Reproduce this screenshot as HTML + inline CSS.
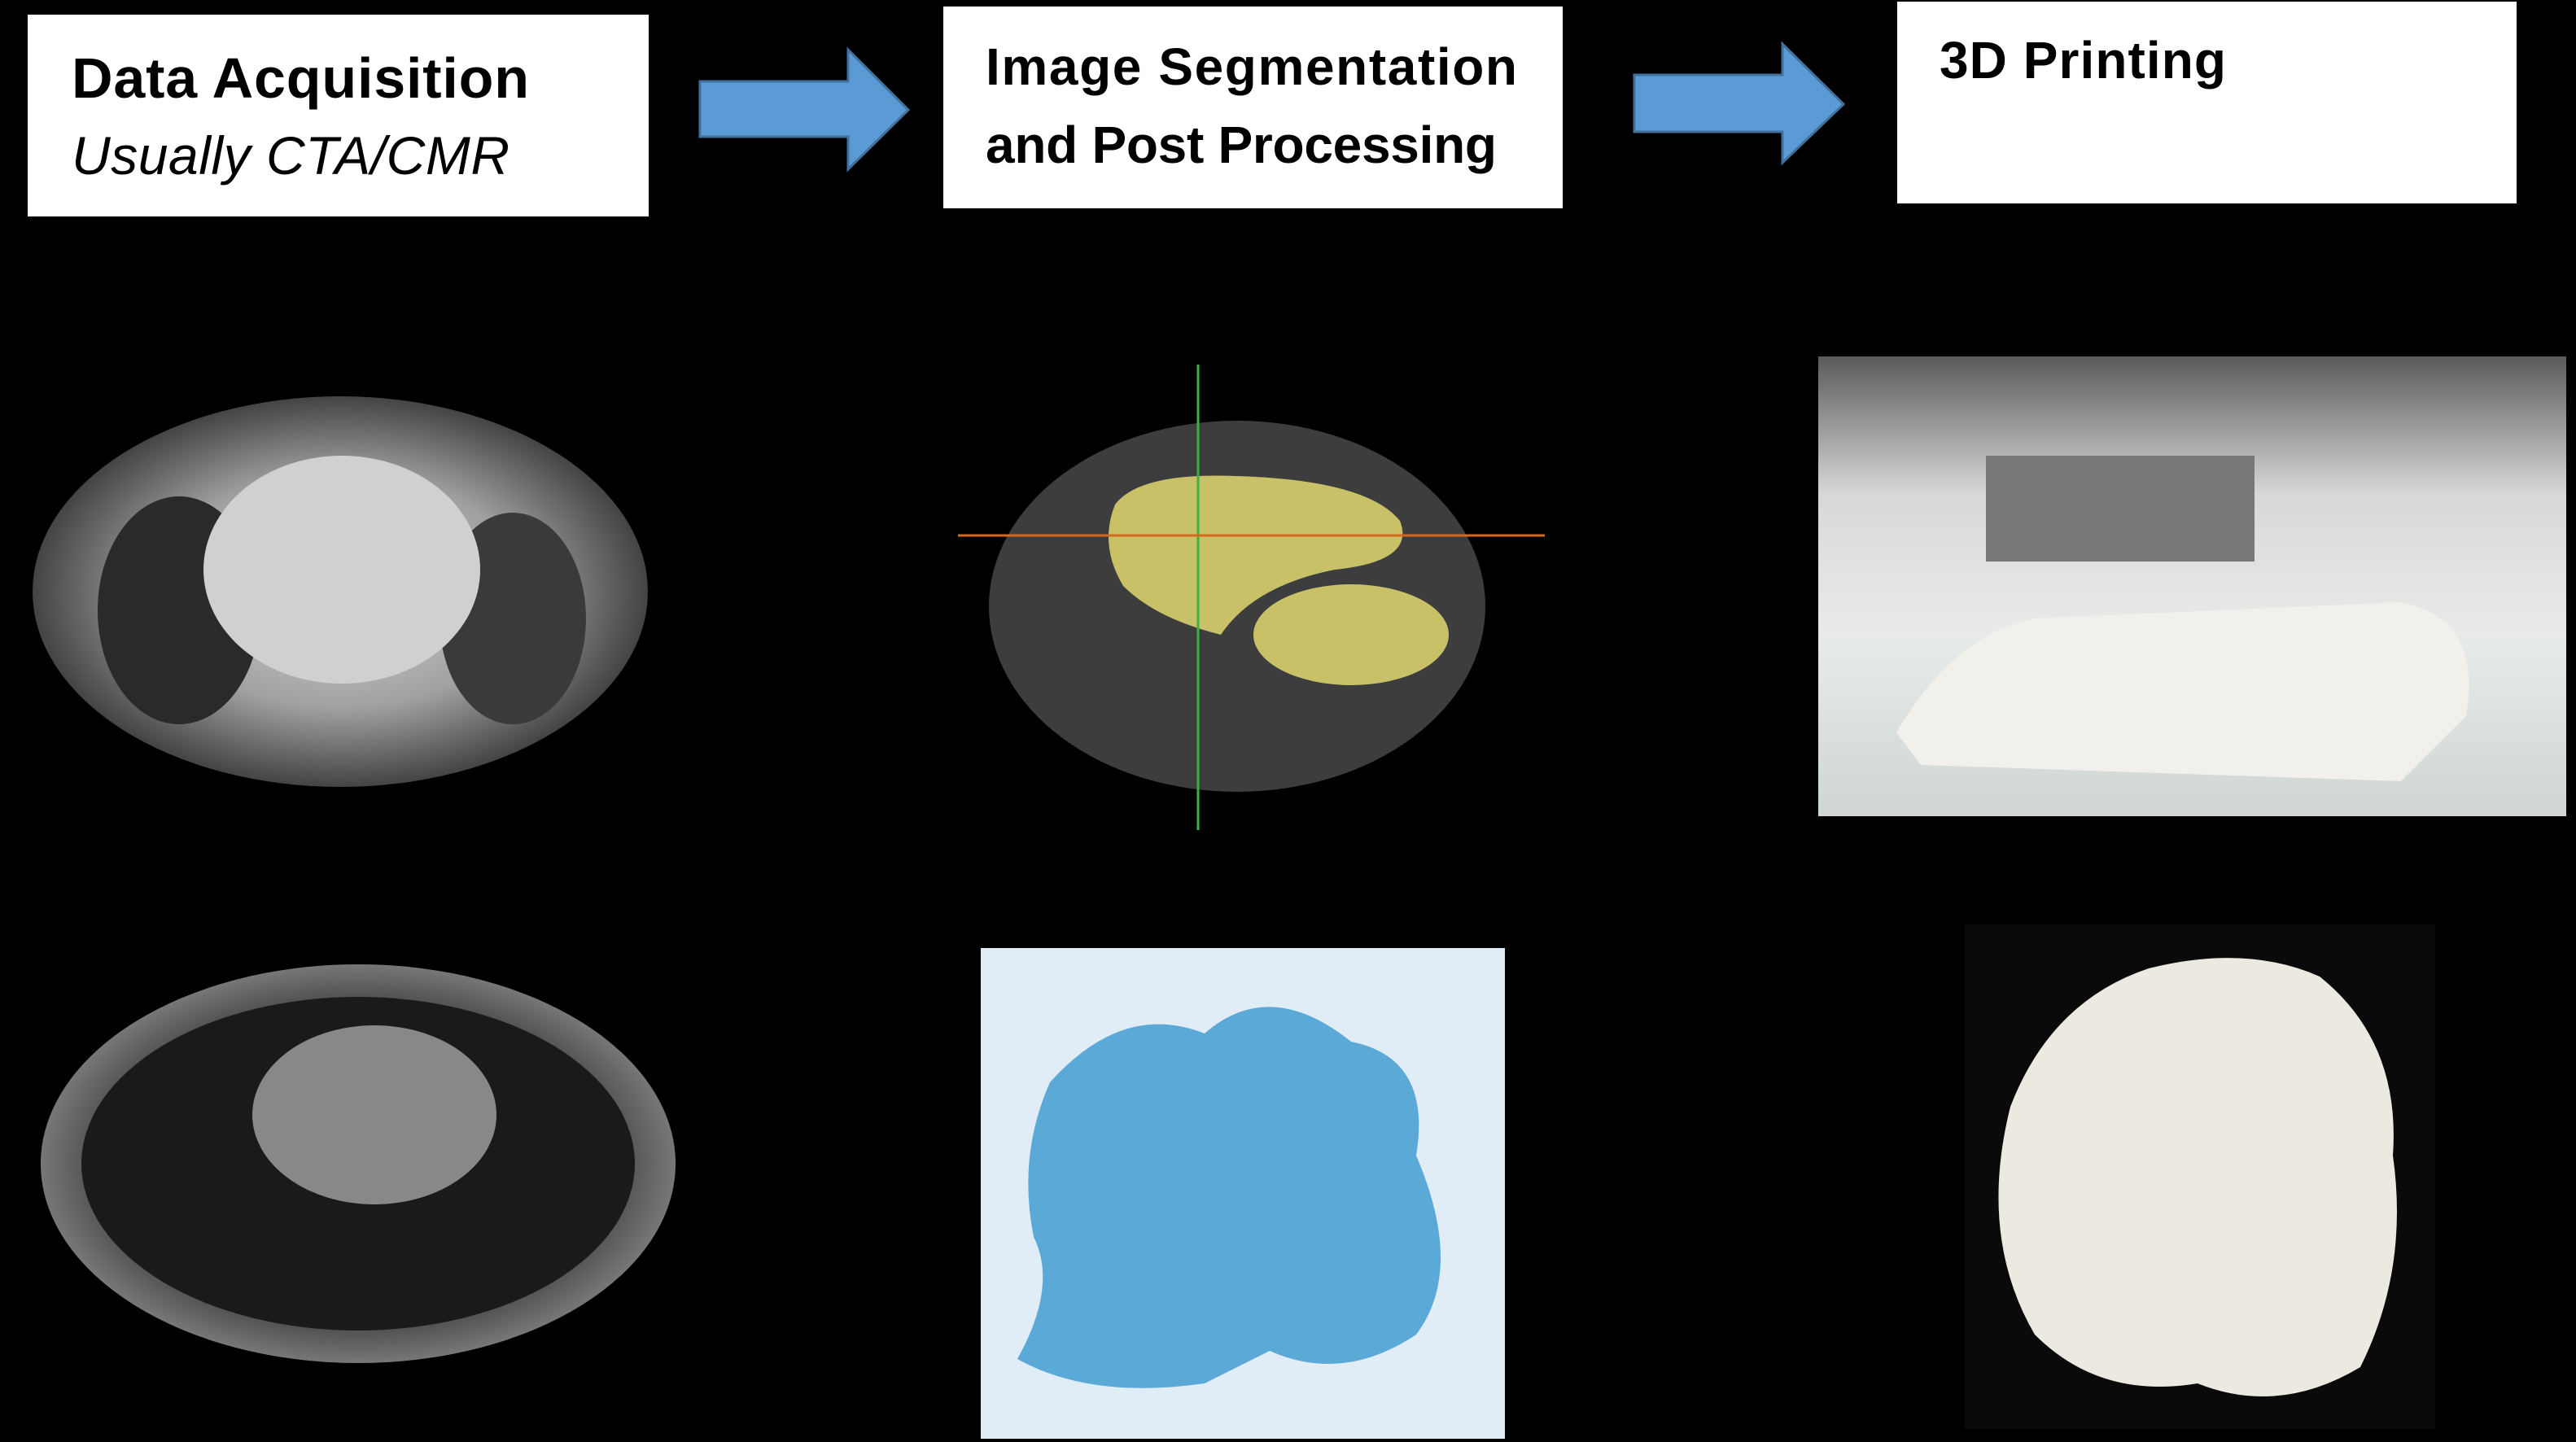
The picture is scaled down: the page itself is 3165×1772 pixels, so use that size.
<!DOCTYPE html>
<html><head><meta charset="utf-8"><style>
html,body{margin:0;padding:0;background:#000;}
svg{display:block;}
text{font-family:"Liberation Sans",sans-serif;}
</style></head><body>
<svg width="3165" height="1772" viewBox="0 0 3165 1772" xmlns="http://www.w3.org/2000/svg">
<defs>
<radialGradient id="ct" cx="50%" cy="50%" r="50%"><stop offset="0" stop-color="#d8d8d8"/><stop offset="0.6" stop-color="#a0a0a0"/><stop offset="0.85" stop-color="#666"/><stop offset="1" stop-color="#444"/></radialGradient>
<radialGradient id="mr" cx="50%" cy="50%" r="50%"><stop offset="0" stop-color="#888"/><stop offset="0.7" stop-color="#333"/><stop offset="1" stop-color="#777"/></radialGradient>
<linearGradient id="ph" x1="0" y1="0" x2="0" y2="1"><stop offset="0" stop-color="#5a5a5a"/><stop offset="0.3" stop-color="#d8d8d8"/><stop offset="0.6" stop-color="#e8ebea"/><stop offset="1" stop-color="#cfd6d4"/></linearGradient>
</defs>
<rect width="3165" height="1772" fill="#000"/>
<rect x="34" y="18" width="763" height="248" fill="#fff"/>
<text x="88" y="120" font-size="70" font-weight="bold" textLength="562">Data Acquisition</text>
<text x="88" y="214" font-size="66" font-style="italic" textLength="538">Usually CTA/CMR</text>
<rect x="1159" y="8" width="761" height="248" fill="#fff"/>
<text x="1211" y="104" font-size="64" font-weight="bold" textLength="653">Image Segmentation</text>
<text x="1211" y="200" font-size="64" font-weight="bold" textLength="628">and Post Processing</text>
<rect x="2331" y="2" width="761" height="248" fill="#fff"/>
<text x="2383" y="96" font-size="64" font-weight="bold" textLength="352">3D Printing</text>
<polygon points="860,100 1042,100 1042,61 1116,135 1042,208 1042,168 860,168" fill="#5b9bd5" stroke="#41719c" stroke-width="3"/>
<polygon points="2008,92 2190,92 2190,54 2265,128 2190,200 2190,162 2008,162" fill="#5b9bd5" stroke="#41719c" stroke-width="3"/>
<ellipse cx="418" cy="727" rx="378" ry="240" fill="url(#ct)"/>
<ellipse cx="220" cy="750" rx="100" ry="140" fill="#2a2a2a"/>
<ellipse cx="630" cy="760" rx="90" ry="130" fill="#3a3a3a"/>
<ellipse cx="420" cy="700" rx="170" ry="140" fill="#d0d0d0"/>
<ellipse cx="1520" cy="745" rx="305" ry="228" fill="#3d3d3d"/>
<path d="M1370 620 Q1400 580 1520 585 Q1680 590 1720 640 Q1740 690 1640 700 Q1540 720 1500 780 Q1420 760 1380 720 Q1350 670 1370 620 Z" fill="#c8c168"/>
<ellipse cx="1660" cy="780" rx="120" ry="62" fill="#c8c168"/>
<line x1="1472" y1="448" x2="1472" y2="1020" stroke="#3cb043" stroke-width="3"/>
<line x1="1177" y1="658" x2="1898" y2="658" stroke="#d2691e" stroke-width="3"/>
<rect x="2234" y="438" width="919" height="565" fill="url(#ph)"/>
<rect x="2440" y="560" width="330" height="130" fill="#777"/>
<path d="M2330 900 Q2400 780 2500 760 L2950 740 Q3050 760 3030 880 L2950 960 L2360 940 Z" fill="#f2f0ea"/>
<ellipse cx="440" cy="1430" rx="390" ry="245" fill="url(#mr)"/>
<ellipse cx="440" cy="1430" rx="340" ry="205" fill="#1a1a1a"/>
<ellipse cx="460" cy="1370" rx="150" ry="110" fill="#888"/>
<rect x="1205" y="1165" width="644" height="603" fill="#e0ecf6"/>
<path d="M1290 1330 Q1380 1230 1480 1270 Q1560 1200 1660 1280 Q1760 1300 1740 1420 Q1800 1560 1740 1640 Q1650 1700 1560 1660 L1480 1700 Q1340 1720 1250 1670 Q1300 1580 1270 1520 Q1250 1420 1290 1330 Z" fill="#5aa9d6"/>
<rect x="2414" y="1136" width="578" height="620" fill="#0a0a0a"/>
<path d="M2470 1360 Q2520 1230 2640 1190 Q2760 1160 2850 1200 Q2950 1280 2940 1420 Q2960 1560 2900 1680 Q2800 1740 2700 1700 Q2580 1720 2500 1640 Q2430 1520 2470 1360 Z" fill="#ece9e0"/>
</svg>
</body></html>
